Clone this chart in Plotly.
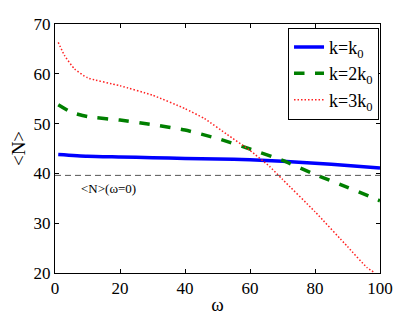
import plotly.graph_objects as go

omega_k1 = [1, 10, 20, 30, 40, 50, 60, 70, 80, 90, 100]
N_k1 = [43.8, 43.45, 43.3, 43.15, 43.0, 42.9, 42.75, 42.45, 42.05, 41.6, 41.1]

omega_k2 = [1, 5, 10, 20, 30, 40, 50, 60, 70, 80, 90, 100]
N_k2 = [53.8, 52.3, 51.4, 50.7, 49.8, 48.7, 47.0, 44.9, 42.6, 39.8, 37.2, 34.5]

omega_k3 = [1, 3, 6, 10, 20, 30, 40, 46, 53, 60, 66, 70, 80, 90, 96, 98.5]
N_k3 = [66.3, 63.6, 61.0, 59.2, 57.6, 55.7, 53.0, 51.0, 47.8, 44.6, 41.4, 38.8, 32.3, 25.3, 21.1, 20.0]

N_omega0 = 39.6
x_ticks = [0, 20, 40, 60, 80, 100]
y_ticks = [20, 30, 40, 50, 60, 70]

serif = "Liberation Serif"

fig = go.Figure()
fig.add_trace(go.Scatter(x=omega_k1, y=N_k1, mode="lines", name="k=k<sub>0</sub>",
                         line=dict(color="#0000ff", width=3.5, shape="spline", smoothing=0.6)))
fig.add_trace(go.Scatter(x=omega_k2, y=N_k2, mode="lines", name="k=2k<sub>0</sub>",
                         line=dict(color="#007f00", width=3.5, dash="dash", shape="spline", smoothing=0.6)))
fig.add_trace(go.Scatter(x=omega_k3, y=N_k3, mode="lines", name="k=3k<sub>0</sub>",
                         line=dict(color="#ff2020", width=1.5, dash="1.5px,2px", shape="spline", smoothing=0.5)))

fig.add_shape(type="line", xref="x", yref="y", x0=0, x1=100, y0=N_omega0, y1=N_omega0,
              line=dict(color="#555555", width=1, dash="6px,4px"))
fig.add_annotation(x=7.5, y=37, xref="x", yref="y", text="&lt;N&gt;(ω=0)", showarrow=False,
                   xanchor="left", font=dict(family=serif, size=13, color="black"))

axis_common = dict(showline=True, linecolor="black", linewidth=1, mirror="ticks",
                   ticks="inside", ticklen=4, tickcolor="black", showgrid=False,
                   zeroline=False, automargin=False,
                   tickfont=dict(family=serif, size=17, color="black"))

fig.update_xaxes(range=[0, 100], tickvals=x_ticks, title=dict(text="ω", standoff=0,
                 font=dict(family=serif, size=19, color="black")), **axis_common)
fig.update_yaxes(range=[20, 70], tickvals=y_ticks, title=dict(text="&lt;N&gt;", standoff=2,
                 font=dict(family=serif, size=19, color="black")), **axis_common)

# page body has an 8px margin, so the figure is shrunk by that amount
fig.update_layout(
    width=412, height=308,
    margin=dict(l=47, r=40, t=16, b=43),
    paper_bgcolor="white", plot_bgcolor="white",
    showlegend=True,
    legend=dict(x=0.997, y=0.985, xanchor="right", yanchor="top",
                bordercolor="black", borderwidth=1, bgcolor="white",
                font=dict(family=serif, size=18, color="black"),
                tracegroupgap=0, itemwidth=30),
)

fig.write_html("out.html")
